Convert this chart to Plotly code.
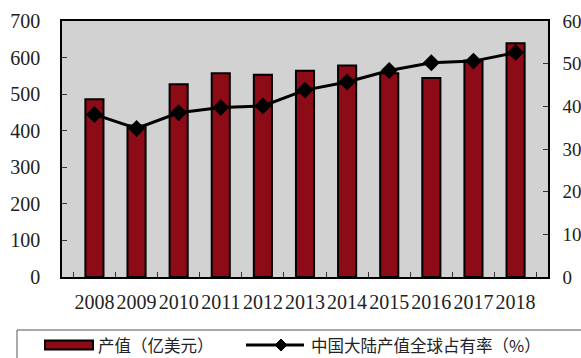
import plotly.graph_objects as go

years = ["2008", "2009", "2010", "2011", "2012", "2013", "2014", "2015", "2016", "2017", "2018"]
output_value = [486, 414, 527, 557, 553, 564, 578, 557, 544, 592, 639]
share_pct = [38.1, 34.8, 38.5, 39.7, 40.1, 43.8, 45.7, 48.4, 50.2, 50.6, 52.6]
bar_name = "产值（亿美元）"
line_name = "中国大陆产值全球占有率（%）"

W, H = 581, 358
L, R, T, B = 62, 548, 21, 277

BAR_COLOR = "#8c0b16"
BG = "#d2d2d2"
SERIF = "Liberation Serif, Times New Roman, serif"
CJK = "Noto Sans CJK SC"

fig = go.Figure()
fig.add_trace(go.Bar(x=years, y=output_value, name=bar_name, yaxis="y",
                     marker=dict(color=BAR_COLOR, line=dict(color="black", width=2)),
                     width=0.43, showlegend=False))
fig.add_trace(go.Scatter(x=years, y=share_pct, name=line_name, yaxis="y2",
                         mode="lines+markers",
                         line=dict(color="black", width=3),
                         marker=dict(symbol="diamond", size=13, color="black"),
                         showlegend=False))

def px(x):
    return (x - L) / (R - L)

def py(y):
    return (B - y) / (B - T)

LEG_Y = 345

shapes = [
    # legend frame
    dict(type="rect", xref="paper", yref="paper", x0=px(17), x1=px(600), y0=py(365), y1=py(330),
         line=dict(color="#555555", width=1), fillcolor="rgba(0,0,0,0)"),
    # legend bar symbol
    dict(type="rect", xref="paper", yref="paper", x0=px(45), x1=px(93), y0=py(LEG_Y + 4.5), y1=py(LEG_Y - 4.5),
         line=dict(color="black", width=2), fillcolor=BAR_COLOR),
    # legend line symbol
    dict(type="line", xref="paper", yref="paper", x0=px(246), x1=px(304), y0=py(LEG_Y), y1=py(LEG_Y),
         line=dict(color="black", width=3)),
    dict(type="path", xref="paper", yref="paper",
         path="M {a},{m} L {b},{t} L {c},{m} L {b},{u} Z".format(
             a=px(275), b=px(281), c=px(287), m=py(LEG_Y), t=py(LEG_Y - 6), u=py(LEG_Y + 6)),
         line=dict(color="black", width=1), fillcolor="black"),
]

annotations = [
    dict(text=bar_name, xref="paper", yref="paper", x=px(97), y=py(LEG_Y), xanchor="left",
         yanchor="middle", showarrow=False, borderpad=0,
         font=dict(family=CJK, size=16.5, color="#222")),
    dict(text=line_name, xref="paper", yref="paper", x=px(310), y=py(LEG_Y), xanchor="left",
         yanchor="middle", showarrow=False, borderpad=0,
         font=dict(family=CJK, size=16.5, color="#222")),
]

fig.update_layout(
    width=W, height=H,
    margin=dict(l=L, r=W - R, t=T, b=H - B, pad=0, autoexpand=False),
    paper_bgcolor="white", plot_bgcolor=BG,
    font=dict(family=SERIF, size=20, color="#222"),
    xaxis=dict(type="category", showgrid=False, showline=True, linecolor="black", linewidth=1.5,
               mirror=True, ticks="inside", ticklen=5, tickcolor="#333", tickson="boundaries",
               ticklabelstandoff=6, tickangle=0, automargin=False,
               tickfont=dict(family=SERIF, size=20)),
    yaxis=dict(range=[0, 700], dtick=100, showgrid=False, showline=True, linecolor="black",
               linewidth=1.5, ticks="inside", ticklen=5, tickcolor="#333", zeroline=False,
               ticklabelstandoff=16, automargin=False, tickfont=dict(family=SERIF, size=20)),
    yaxis2=dict(range=[0, 60], dtick=10, overlaying="y", side="right", showgrid=False,
                showline=True, linecolor="black", linewidth=1.5, ticks="inside", ticklen=5,
                tickcolor="#333", zeroline=False, ticklabelstandoff=9, automargin=False,
                tickfont=dict(family=SERIF, size=19)),
    shapes=shapes, annotations=annotations, showlegend=False,
)

fig.write_html("out.html")
